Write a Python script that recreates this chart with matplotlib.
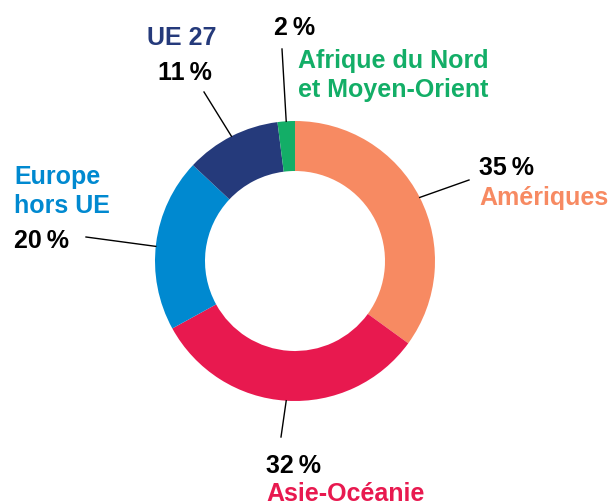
import numpy as np
import matplotlib
matplotlib.use('Agg')
import matplotlib.pyplot as pl

#--------------------------------------------------------------------------------------------
# data (clockwise from 12 o'clock)
regions = ['Amériques', 'Asie-Océanie', 'Europe\nhors UE', 'UE 27', 'Afrique du Nord\net Moyen-Orient']
shares = [35, 32, 20, 11, 2]
colors = ['#F78A62', '#E8194F', '#0089D0', '#253A7B', '#13AE67']

#--------------------------------------------------------------------------------------------
W, H = 609, 502
cx, cy, R, ring = 295, 262, 140, 50

pl.rcParams['font.family'] = ['Liberation Sans', 'DejaVu Sans']

fig, ax = pl.subplots(figsize=(W/100., H/100.), dpi=100)
ax.set_position([0, 0, 1, 1])

ax.pie(shares, colors=colors, startangle=90, counterclock=False,
       radius=R, center=(cx, H-cy), wedgeprops=dict(width=ring, linewidth=0))

ax.set_xlim(0, W)
ax.set_ylim(0, H)
ax.set_aspect('equal')
ax.axis('off')

# mid angles of wedges (deg, ccw from +x)
cum = np.cumsum([0] + shares)
mid = 90. - 3.6*(cum[:-1] + np.array(shares)/2.)
anchor = mid.copy()
anchor[2] = 174.   # Europe leader attaches higher up

# outer ends of leader lines (pixel coords)
ends = [(469, 181), (281, 438), (86, 238), (204, 93), (282, 50)]

for a, (ex, ey) in zip(anchor, ends):
    sx = cx + R*np.cos(np.radians(a))
    sy = cy - R*np.sin(np.radians(a))
    ax.plot([sx, ex], [H-sy, H-ey], color='black', lw=1.)

fs = 18
def txt(x, y, s, c):
    ax.text(x, H-y, s, color=c, fontsize=fs, fontweight='bold', ha='left', va='baseline',
            linespacing=1.27)

pct = ['%d\u202f%%' % v for v in shares]

# Amériques
txt(479, 175, pct[0], 'black')
txt(479, 205, regions[0], colors[0])
# Asie-Océanie
txt(266, 473, pct[1], 'black')
txt(266, 501, regions[1], colors[1])
# Europe hors UE
txt(14, 213, regions[2], colors[2])
txt(14, 248, pct[2], 'black')
# UE 27
txt(147, 45, regions[3], colors[3])
txt(158, 80, pct[3], 'black')
# Afrique du Nord
txt(274, 35, pct[4], 'black')
txt(298, 97, regions[4], colors[4])

fig.savefig('out.png', dpi=100)
